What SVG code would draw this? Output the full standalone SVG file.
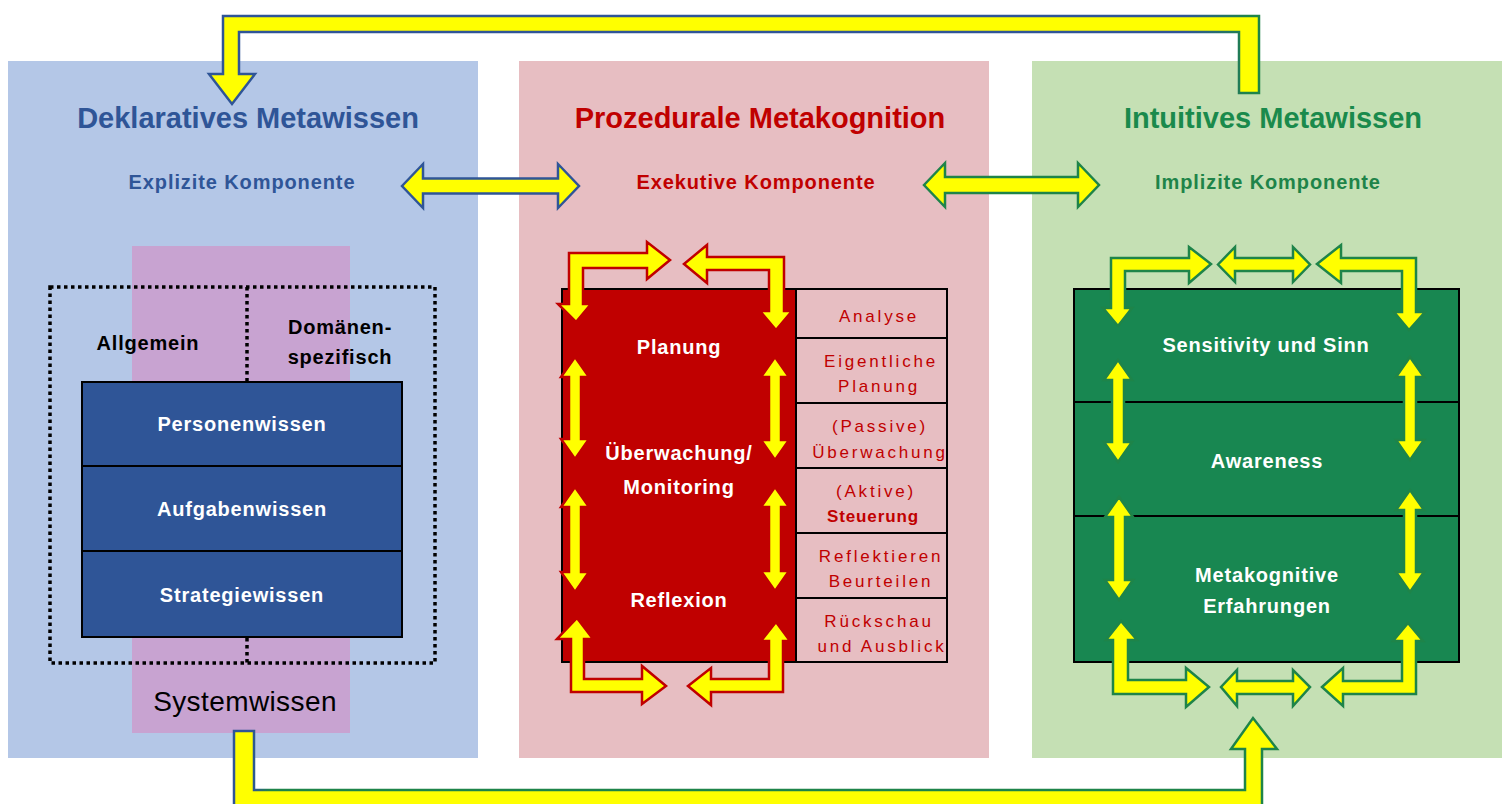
<svg xmlns="http://www.w3.org/2000/svg" width="1509" height="804" viewBox="0 0 1509 804">
  <style>
    text { font-family: "Liberation Sans", Arial, sans-serif; }
    .title { font-size: 29px; font-weight: bold; text-anchor: middle; }
    .sub { font-size: 20px; font-weight: bold; text-anchor: middle; letter-spacing: 0.9px; }
    .box { font-size: 20px; font-weight: bold; fill: #ffffff; text-anchor: middle; letter-spacing: 0.8px; }
    .lbl { font-size: 20px; font-weight: bold; fill: #000000; text-anchor: middle; letter-spacing: 0.8px; }
    .step { font-size: 17px; fill: #c00000; text-anchor: middle; letter-spacing: 2.8px; }
    .cell { fill: none; stroke: #000000; stroke-width: 2; }
    .ya { fill: #ffff00; stroke-width: 2.5; stroke-linejoin: miter; }
    .yb { stroke: #2f5597; }
    .yr { stroke: #c00000; }
    .yg { stroke: #1e8449; }
  </style>
  <defs>
    <linearGradient id="topStroke" gradientUnits="userSpaceOnUse" x1="1185" y1="0" x2="1250" y2="0">
      <stop offset="0" stop-color="#2f5597"/>
      <stop offset="1" stop-color="#1e8449"/>
    </linearGradient>
    <linearGradient id="bottomStroke" gradientUnits="userSpaceOnUse" x1="252" y1="0" x2="270" y2="0">
      <stop offset="0" stop-color="#2f5597"/>
      <stop offset="1" stop-color="#1e8449"/>
    </linearGradient>
  </defs>

  <rect width="1509" height="804" fill="#ffffff"/>

  <!-- Background panels -->
  <g id="panels">
    <rect x="8" y="61" width="470" height="697" fill="#b4c7e7"/>
    <rect x="519" y="61" width="470" height="697" fill="#e7bec2"/>
    <rect x="1032" y="61" width="470" height="697" fill="#c5e0b4"/>
  </g>

  <!-- Declarative knowledge -->
  <g id="deklarativ">
    <text class="title" x="248" y="128" fill="#2f5597">Deklaratives Metawissen</text>
    <text class="sub" x="242" y="189" fill="#2f5597">Explizite Komponente</text>
    <rect x="132" y="246" width="218" height="487" fill="#c8a3d1"/>
    <text x="245" y="711" font-size="28" text-anchor="middle" letter-spacing="0.4" fill="#000000">Systemwissen</text>
    <g fill="none" stroke="#000000" stroke-width="3.5" stroke-dasharray="3.5 3.5">
      <rect x="50" y="287" width="385" height="376"/>
      <line x1="247" y1="287" x2="247" y2="381"/>
      <line x1="247" y1="638" x2="247" y2="663"/>
    </g>
    <text class="lbl" x="148" y="350">Allgemein</text>
    <text class="lbl" x="340" y="334">Domänen-</text>
    <text class="lbl" x="340" y="364">spezifisch</text>
  </g>
  <g id="personenwissen">
    <rect x="82" y="382" width="320" height="84" fill="#2f5597" stroke="#000000" stroke-width="2"/>
    <text class="box" x="242" y="431">Personenwissen</text>
  </g>
  <g id="aufgabenwissen">
    <rect x="82" y="466" width="320" height="85" fill="#2f5597" stroke="#000000" stroke-width="2"/>
    <text class="box" x="242" y="516">Aufgabenwissen</text>
  </g>
  <g id="strategiewissen">
    <rect x="82" y="551" width="320" height="86" fill="#2f5597" stroke="#000000" stroke-width="2"/>
    <text class="box" x="242" y="602">Strategiewissen</text>
  </g>

  <!-- Procedural metacognition -->
  <g id="prozedural">
    <text class="title" x="760" y="128" fill="#c00000">Prozedurale Metakognition</text>
    <text class="sub" x="756" y="189" fill="#c00000">Exekutive Komponente</text>
  </g>
  <g id="exekutiv-block">
    <rect x="562" y="289" width="234" height="373" fill="#c00000" stroke="#000000" stroke-width="2"/>
    <text class="box" x="679" y="354">Planung</text>
    <text class="box" x="679" y="460">Überwachung/</text>
    <text class="box" x="679" y="494">Monitoring</text>
    <text class="box" x="679" y="607">Reflexion</text>
  </g>
  <g id="analyse">
    <rect class="cell" x="796" y="289" width="151" height="49"/>
    <text class="step" x="879" y="322">Analyse</text>
  </g>
  <g id="eigentliche-planung">
    <rect class="cell" x="796" y="338" width="151" height="65"/>
    <text class="step" x="881" y="367">Eigentliche</text>
    <text class="step" x="879" y="392">Planung</text>
  </g>
  <g id="passive-ueberwachung">
    <rect class="cell" x="796" y="403" width="151" height="65"/>
    <text class="step" x="880" y="432">(Passive)</text>
    <text class="step" x="880" y="458">Überwachung</text>
  </g>
  <g id="aktive-steuerung">
    <rect class="cell" x="796" y="468" width="151" height="65"/>
    <text class="step" x="876" y="497" letter-spacing="2">(Aktive)</text>
    <text x="873" y="522" font-size="17" font-weight="bold" fill="#c00000" text-anchor="middle" letter-spacing="0.9">Steuerung</text>
  </g>
  <g id="reflektieren-beurteilen">
    <rect class="cell" x="796" y="533" width="151" height="65"/>
    <text class="step" x="881" y="562">Reflektieren</text>
    <text class="step" x="881" y="587">Beurteilen</text>
  </g>
  <g id="rueckschau-ausblick">
    <rect class="cell" x="796" y="598" width="151" height="64"/>
    <text class="step" x="879" y="627">Rückschau</text>
    <text class="step" x="882" y="652">und Ausblick</text>
  </g>

  <!-- Intuitive metaknowledge -->
  <g id="intuitiv">
    <text class="title" x="1273" y="128" fill="#1a8a4c">Intuitives Metawissen</text>
    <text class="sub" x="1268" y="189" fill="#1e8449">Implizite Komponente</text>
  </g>
  <g id="sensitivity">
    <rect x="1074" y="289" width="385" height="113" fill="#188751" stroke="#000000" stroke-width="2"/>
    <text class="box" x="1266" y="352">Sensitivity und Sinn</text>
  </g>
  <g id="awareness">
    <rect x="1074" y="402" width="385" height="114" fill="#188751" stroke="#000000" stroke-width="2"/>
    <text class="box" x="1267" y="468">Awareness</text>
  </g>
  <g id="erfahrungen">
    <rect x="1074" y="516" width="385" height="146" fill="#188751" stroke="#000000" stroke-width="2"/>
    <text class="box" x="1267" y="582">Metakognitive</text>
    <text class="box" x="1267" y="613">Erfahrungen</text>
  </g>

  <!-- Connectors -->
  <g id="connectors">
    <!-- feedback loop across the top -->
    <path class="ya" stroke="url(#topStroke)" d="M223,16 L1259,16 L1259,93 L1239,93 L1239,32 L239,32 L239,74 L255,74 L232,104 L209,74 L223,74 Z"/>
    <!-- feedback loop across the bottom -->
    <path class="ya" stroke="url(#bottomStroke)" d="M234,731 L254,731 L254,790 L1245,790 L1245,749 L1231,749 L1253,718 L1277,749 L1262,749 L1262,812 L234,812 Z"/>

    <!-- links between the components -->
    <path class="ya yb" d="M402,186 L423,164 L423,178.5 L558,178.5 L558,164 L579,186 L558,208 L558,193.5 L423,193.5 L423,208 Z"/>
    <path class="ya yg" d="M924,185 L945,163 L945,177 L1078,177 L1078,163 L1099,185 L1078,207 L1078,193 L945,193 L945,207 Z"/>

    <!-- procedural cycle -->
    <path class="ya yr" d="M569,253 L647,253 L647,242 L670,260 L647,279 L647,268 L583,268 L583,304 L591,304 L576,322 L558,304 L569,304 Z"/>
    <path class="ya yr" d="M684,264 L707,245 L707,257 L784,257 L784,311 L792,311 L776,330 L760,311 L769,311 L769,270 L707,270 L707,283 Z"/>
    <path class="ya yr" d="M577,618 L593,639 L584,639 L584,679 L642,679 L642,666 L666,686 L642,704 L642,692 L571,692 L571,639 L557,639 Z"/>
    <path class="ya yr" d="M688,686 L711,668 L711,679 L769,679 L769,641 L761,641 L776,622 L790,641 L783,641 L783,692 L711,692 L711,705 Z"/>
    <path class="ya yr" d="M575,357 L589,377 L581,377 L581,439 L589,439 L575,459 L561,439 L569,439 L569,377 L561,377 Z"/>
    <path class="ya yr" d="M575,487 L589,507 L581,507 L581,572 L589,572 L575,592 L561,572 L569,572 L569,507 L561,507 Z"/>
    <path class="ya yr" d="M775,357 L789,377 L781,377 L781,440 L789,440 L775,460 L761,440 L769,440 L769,377 L761,377 Z"/>
    <path class="ya yr" d="M775,487 L789,507 L781,507 L781,571 L789,571 L775,591 L761,571 L769,571 L769,507 L761,507 Z"/>

    <!-- intuitive cycle -->
    <path class="ya yg" d="M1111,258 L1189,258 L1189,247 L1211,264 L1189,283 L1189,271 L1125,271 L1125,308 L1132,308 L1118,326 L1103,308 L1111,308 Z"/>
    <path class="ya yg" d="M1218,264.5 L1235,247 L1235,258 L1293,258 L1293,247 L1310,264.5 L1293,282 L1293,271 L1235,271 L1235,282 Z"/>
    <path class="ya yg" d="M1317,264 L1341,245 L1341,258 L1416,258 L1416,312 L1425,312 L1409,330 L1394,312 L1402,312 L1402,271 L1341,271 L1341,283 Z"/>
    <path class="ya yg" d="M1121,621 L1137,640 L1128,640 L1128,680 L1186,680 L1186,668 L1209,687 L1186,707 L1186,694 L1113,694 L1113,640 L1106,640 Z"/>
    <path class="ya yg" d="M1221,687 L1237,670 L1237,681 L1293,681 L1293,670 L1310,687 L1293,706 L1293,694 L1237,694 L1237,706 Z"/>
    <path class="ya yg" d="M1322,687 L1343,668 L1343,681 L1402,681 L1402,641 L1393,641 L1408,623 L1423,641 L1416,641 L1416,694 L1343,694 L1343,706 Z"/>
    <path class="ya yg" d="M1118,360 L1132,380 L1124,380 L1124,442 L1132,442 L1118,462 L1104,442 L1112,442 L1112,380 L1104,380 Z"/>
    <path class="ya yg" d="M1119,497 L1133,517 L1125,517 L1125,580 L1133,580 L1119,600 L1105,580 L1113,580 L1113,517 L1105,517 Z"/>
    <path class="ya yg" d="M1410,357 L1424,377 L1416,377 L1416,440 L1424,440 L1410,460 L1396,440 L1404,440 L1404,377 L1396,377 Z"/>
    <path class="ya yg" d="M1410,490 L1424,510 L1416,510 L1416,572 L1424,572 L1410,592 L1396,572 L1404,572 L1404,510 L1396,510 Z"/>
  </g>
</svg>
